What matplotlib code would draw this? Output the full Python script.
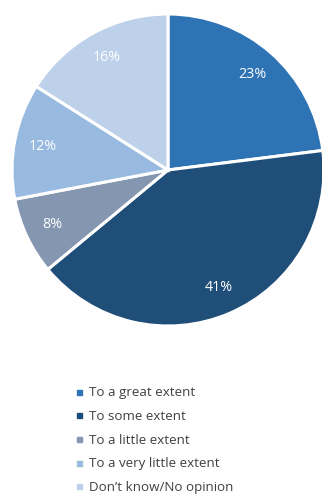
import matplotlib
matplotlib.use("Agg")
import matplotlib.pyplot as plt
from matplotlib.lines import Line2D

# data
labels = ["To a great extent", "To some extent", "To a little extent",
          "To a very little extent", "Don\u2019t know/No opinion"]
shares = [23, 41, 8, 12, 16]
colors = ["#2E74B5", "#1F4E79", "#8496B0", "#98BAE0", "#BDD1EA"]

plt.rcParams['font.family'] = ['Open Sans', 'DejaVu Sans']

fig = plt.figure(figsize=(3.22, 4.95), dpi=100)
ax = fig.add_axes([12 / 322, 1 - 327 / 495, 312 / 322, 314 / 495])

wedges, texts, autotexts = ax.pie(
    shares, colors=colors, startangle=90, counterclock=False,
    autopct='%d%%', pctdistance=0.82,
    wedgeprops=dict(edgecolor='white', linewidth=2.2),
    textprops=dict(color='white', fontsize=10.3))
ax.set_xlim(-1, 1)
ax.set_ylim(-1, 1)
ax.set_aspect('equal')
ax.axis('off')

handles = [Line2D([], [], marker='s', ls='', color=c, markersize=3.6) for c in colors]
fig.legend(handles=handles, labels=labels, loc='upper left',
           bbox_to_anchor=(70 / 322, 1 - 381 / 495), frameon=False,
           fontsize=9.6, labelcolor='#404040', handlelength=0.6,
           handletextpad=0.45, labelspacing=0.8, borderaxespad=0)

fig.savefig("out.png", dpi=100)
